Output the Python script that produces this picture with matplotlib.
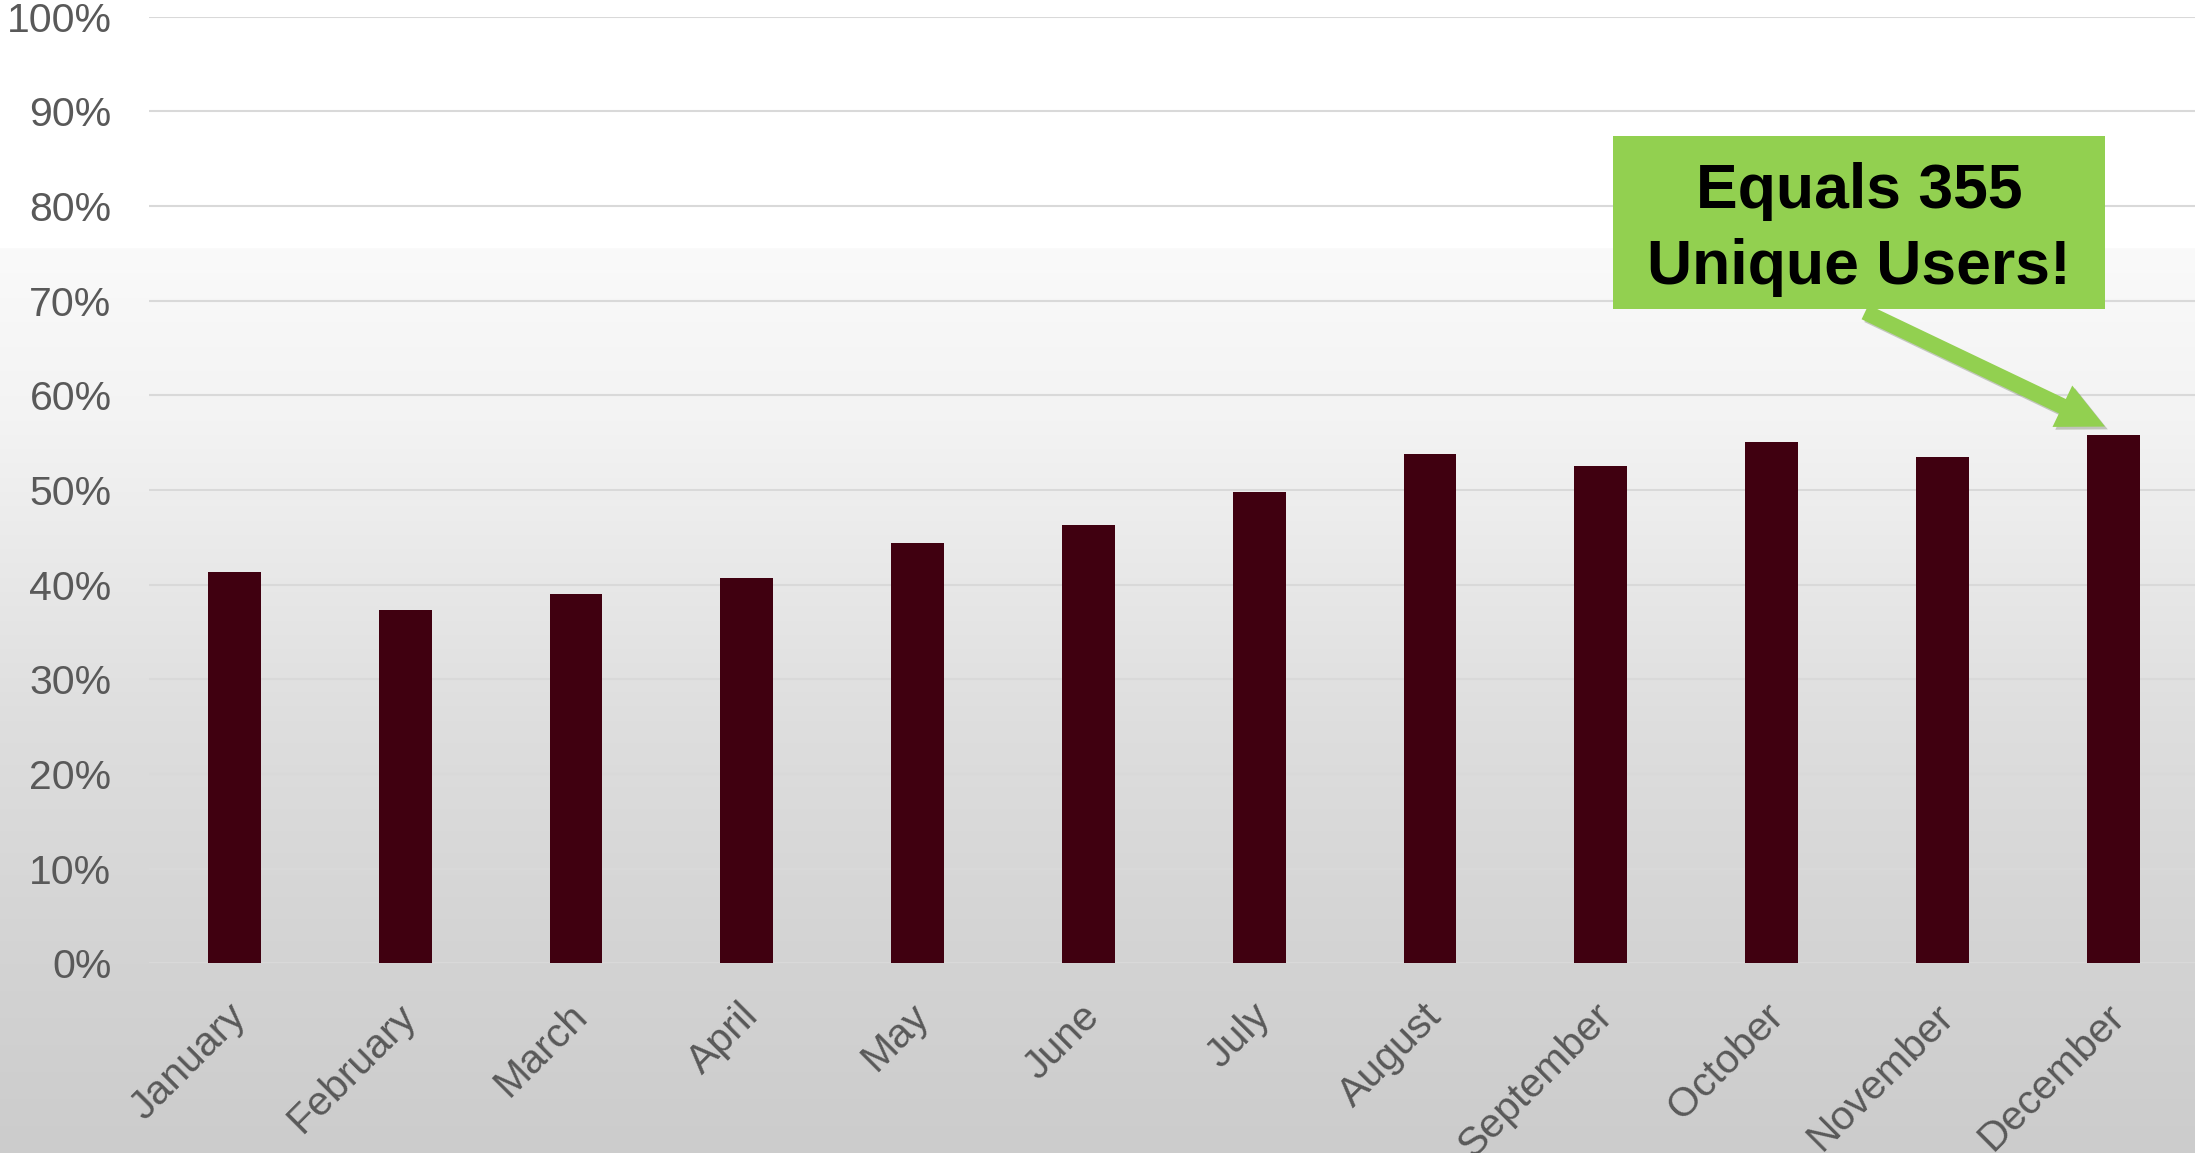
import matplotlib
matplotlib.use('Agg')
import matplotlib.pyplot as plt
import matplotlib.patheffects as pe
from matplotlib.patches import Rectangle
from matplotlib.transforms import ScaledTranslation
import numpy as np

# ---- data ----
months = ['January', 'February', 'March', 'April', 'May', 'June',
          'July', 'August', 'September', 'October', 'November', 'December']
share_pct = [41.3, 37.3, 39.0, 40.7, 44.4, 46.3, 49.8, 53.8, 52.5, 55.1, 53.5, 55.8]
y_ticks = [0, 10, 20, 30, 40, 50, 60, 70, 80, 90, 100]
y_tick_labels = ['0%', '10%', '20%', '30%', '40%', '50%', '60%', '70%', '80%', '90%', '100%']
callout_text = 'Equals 355\nUnique Users!'

plt.rcParams['font.family'] = ['Liberation Sans', 'DejaVu Sans']

W, H = 2195, 1153
fig = plt.figure(figsize=(W / 100, H / 100), dpi=100)

# background gradient (white top, grey bottom), drawn pixel-exact
rows = np.arange(H)
stops_y = [0, 247, 248, 420, 720, 963, 1153]
stops_v = [255, 255, 250, 243, 222, 211, 204]
vals = np.interp(rows, stops_y, stops_v) / 255.0
bg = np.repeat(np.repeat(vals[:, None, None], W, axis=1), 3, axis=2)
fig.figimage(bg, xo=0, yo=0, origin='upper', zorder=-10)

# main axes
ax = fig.add_axes([149 / W, (H - 963.3) / H, 2049.6 / W, (963.3 - 16.7) / H])
ax.patch.set_alpha(0)
x = np.arange(len(months))
ax.bar(x, share_pct, width=0.31, color='#400010', zorder=3)
ax.set_xlim(-0.5, 11.5)
ax.set_ylim(0, 100)
ax.set_yticks(y_ticks)
ax.set_yticklabels(y_tick_labels)
ax.set_xticks(x)
ax.set_xticklabels(months, rotation=45, ha='right', va='top', rotation_mode='anchor')
ax.grid(axis='y', color='#d9d9d9', lw=1.5, zorder=0)
ax.grid(axis='x', visible=False)
ax.set_axisbelow(True)
for s in ax.spines.values():
    s.set_visible(False)
ax.tick_params(axis='both', length=0, labelsize=29.5, labelcolor='#595959')
ax.tick_params(axis='y', pad=27)
ax.tick_params(axis='x', pad=24)
shift = ScaledTranslation(-8 / 100, 0, fig.dpi_scale_trans)
for lab in ax.get_xticklabels():
    lab.set_transform(lab.get_transform() + shift)

# callout box
bx0, bx1, by0, by1 = 8.071, 10.952, 69.1, 87.4
ax.add_patch(Rectangle((bx0, by0), bx1 - bx0, by1 - by0, fc='#92d050', ec='none',
                       zorder=5, clip_on=False))
ax.text((bx0 + bx1) / 2, 71.75, callout_text, ha='center', va='baseline',
        fontsize=45, fontweight='bold', color='black', linespacing=1.38, zorder=6)

# arrow
ann = ax.annotate('', xy=(10.952, 56.7), xytext=(9.547, 68.8),
                  arrowprops=dict(arrowstyle='simple,head_width=3.3,head_length=3.4,tail_width=1.15',
                                  mutation_scale=10, fc='#92d050', ec='none',
                                  shrinkA=0, shrinkB=0),
                  zorder=5)
ann.arrow_patch.set_path_effects([pe.SimplePatchShadow(offset=(2, -2), alpha=0.25), pe.Normal()])

fig.savefig('out.png', dpi=100)
